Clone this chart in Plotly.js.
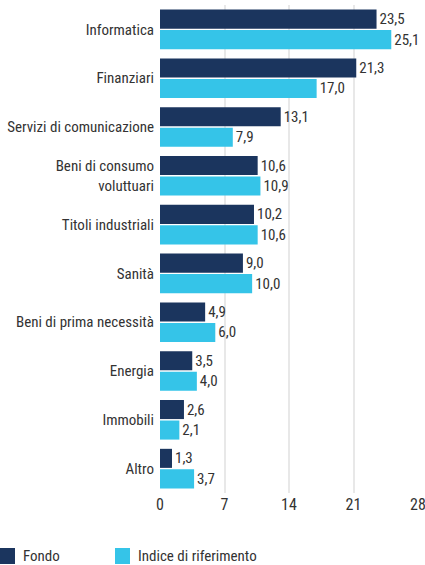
<!DOCTYPE html>
<html><head><meta charset="utf-8">
<script src="https://cdn.plot.ly/plotly-3.0.1.min.js"></script>
<style>html,body{margin:0;padding:0;background:#fff;}#chart{width:425px;height:565px;}</style>
</head><body><div id="chart"></div>
<script>
const categories = ["Informatica","Finanziari","Servizi di comunicazione","Beni di consumo<br>voluttuari","Titoli industriali","Sanità","Beni di prima necessità","Energia","Immobili","Altro"];
const fondo = [23.5,21.3,13.1,10.6,10.2,9.0,4.9,3.5,2.6,1.3];
const indice = [25.1,17.0,7.9,10.9,10.6,10.0,6.0,4.0,2.1,3.7];
const xTicks = [0,7,14,21,28];
const seriesNames = ["Fondo","Indice di riferimento"];
const seriesColors = ['#1b355e','#35c4e8'];

const FONT = '"Roboto Condensed","DejaVu Sans Condensed","Liberation Sans Narrow",sans-serif';
const fmt = v => v.toFixed(1).replace('.', ',');
const FS = 15;

const traces = [fondo, indice].map((vals, i) => ({
  type:'bar', orientation:'h', name:seriesNames[i], y:categories, x:vals,
  marker:{color:seriesColors[i]}, text:vals.map(fmt), textposition:'outside', cliponaxis:false,
  textfont:{family:FONT,size:FS,color:'#333'}, hoverinfo:'none'
}));

// legend drawn in container pixels -> paper coords
const W = 425, H = 565, ML = 160, MR = 7, MT = 5, MB = 72;
const PW = W - ML - MR, PH = H - MT - MB;
const px = x => (x - ML) / PW;
const py = y => (H - MB - y) / PH;
const legendX = [0, 115];
const shapes = [], annotations = [];
seriesNames.forEach((n, i) => {
  const x0 = legendX[i];
  shapes.push({type:'rect', xref:'paper', yref:'paper', x0:px(x0), x1:px(x0+15), y0:py(564), y1:py(548),
               fillcolor:seriesColors[i], line:{width:0}});
  annotations.push({xref:'paper', yref:'paper', x:px(x0+21), y:py(556), xanchor:'left', yanchor:'middle',
                    text:n, showarrow:false, font:{family:FONT,size:FS,color:'#333'}});
});

const layout = {
  width:W, height:H,
  margin:{l:ML, r:MR, t:MT, b:MB, autoexpand:false},
  paper_bgcolor:'#fff', plot_bgcolor:'#fff',
  font:{family:FONT, size:FS, color:'#333'},
  barmode:'group', bargap:0.16, bargroupgap:0.07,
  xaxis:{range:[0,28], tickvals:xTicks, ticktext:xTicks.map(String), showgrid:true,
         gridcolor:'#e8e8e8', gridwidth:2, zeroline:false, showline:false, ticks:'',
         ticklabeloverflow:'allow', automargin:false,
         tickfont:{family:FONT,size:FS+1,color:'#333'}, fixedrange:true},
  yaxis:{autorange:'reversed', ticks:'', showgrid:false, zeroline:false, showline:false,
         automargin:false,
         ticklabelstandoff:5, tickfont:{family:FONT,size:FS,color:'#333'}, fixedrange:true},
  showlegend:false,
  shapes, annotations
};
Plotly.newPlot('chart', traces, layout, {displayModeBar:false, staticPlot:true});
</script></body></html>
